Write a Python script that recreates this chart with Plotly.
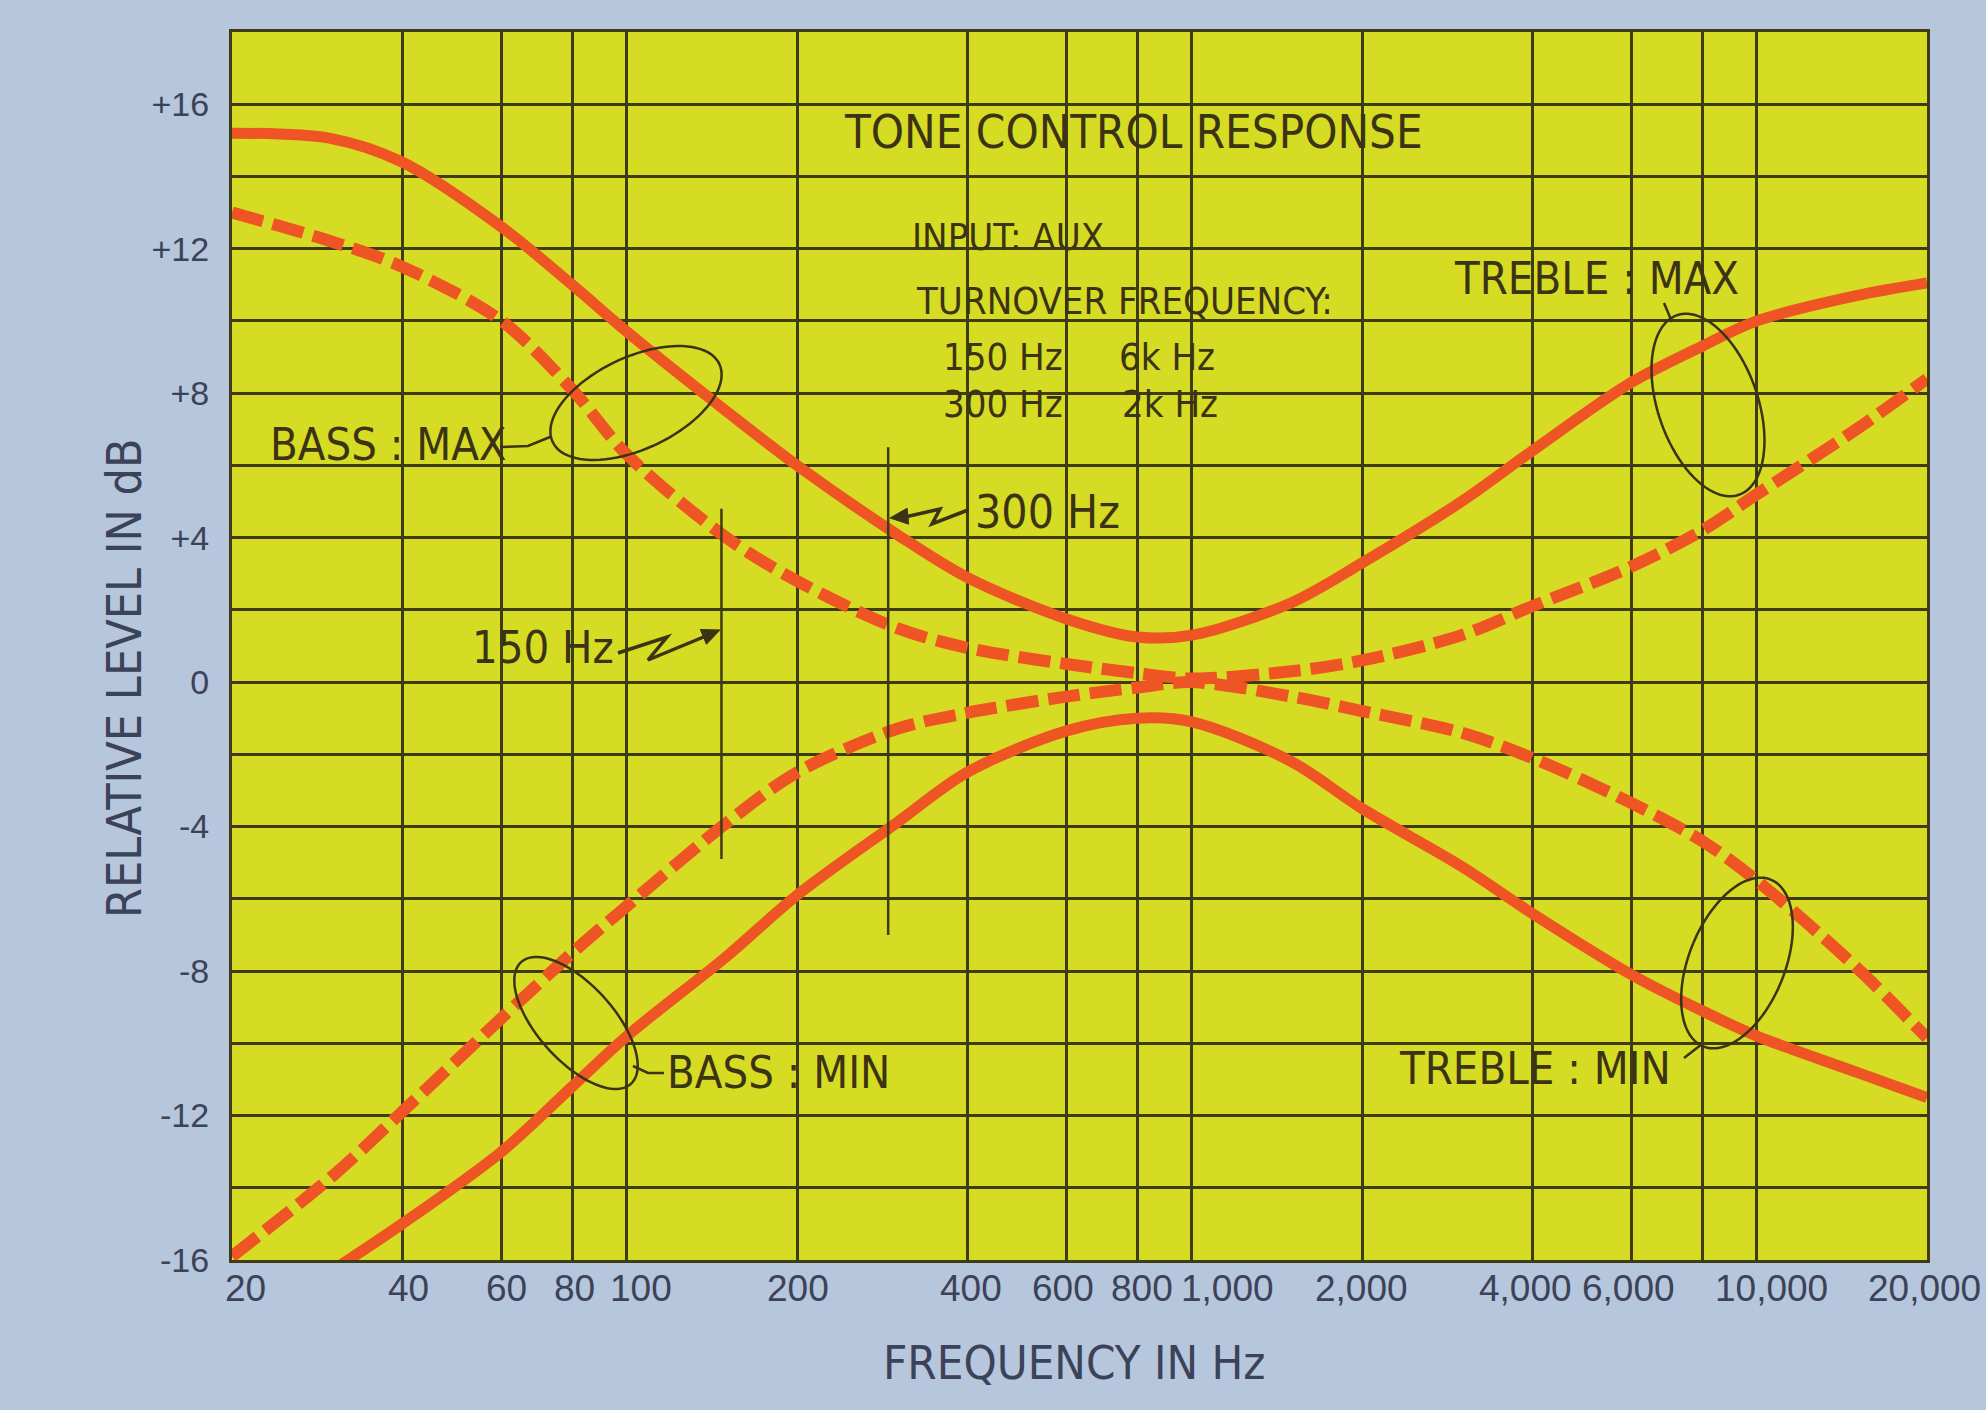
import math
import plotly.graph_objects as go

# ---------------- data ----------------
freq = [20, 30, 40, 60, 80, 100, 150, 200, 300, 400, 600, 800, 1000,
        1500, 2000, 3000, 4000, 6000, 8000, 10000, 15000, 20000]

# turnover 300 Hz / 2 kHz (solid)
max_300_2k = [15.2, 15.05, 14.4, 12.6, 11.0, 9.7, 7.5, 6.0, 4.1, 2.9, 1.75, 1.25, 1.3,
              2.2, 3.3, 5.0, 6.4, 8.3, 9.3, 10.0, 10.7, 11.05]
min_300_2k = [-18.0, -16.3, -15.0, -13.0, -11.2, -9.8, -7.6, -5.9, -3.9, -2.5, -1.35, -1.0, -1.1,
              -2.2, -3.5, -5.1, -6.4, -8.1, -9.1, -9.8, -10.8, -11.5]
# turnover 150 Hz / 6 kHz (dashed)
max_150_6k = [13.0, 12.2, 11.5, 10.0, 8.1, 6.3, 4.0, 2.8, 1.5, 0.95, 0.5, 0.25, 0.1,
              0.3, 0.6, 1.3, 2.1, 3.2, 4.2, 5.2, 7.0, 8.4]
min_150_6k = [-15.9, -13.7, -11.9, -9.3, -7.5, -6.2, -3.9, -2.5, -1.3, -0.85, -0.4, -0.15, 0.0,
              -0.4, -0.8, -1.4, -2.1, -3.35, -4.4, -5.5, -7.9, -9.85]

# turnover markers (as drawn on the chart)
marker_freq = [147, 290]
marker_top = [4.8, 6.5]
marker_bottom = [-4.9, -7.0]

x_tick_vals = [20, 40, 60, 80, 100, 200, 400, 600, 800, 1000, 2000, 4000, 6000, 8000, 10000, 20000]
x_tick_text = ["20", "40", "60", "80", "100", "200", "400", "600", "800", "1,000", "2,000",
               "4,000", "6,000", "", "10,000", "20,000"]
y_tick_vals = list(range(-16, 19, 2))
y_tick_text = ["-16", "", "-12", "", "-8", "", "-4", "", "0", "", "+4", "", "+8", "", "+12", "", "+16", ""]

# ---------------- style ----------------
W, H = 1986, 1410
L, R, T, B = 232, 59, 32, 150
PW, PH = W - L - R, H - T - B
BG = "#b6c6dc"
YEL = "#d6db24"
GRID = "#3f3b14"
CURVE = "#ee5424"
INK = "#3a3314"
TICK_INK = "#3c4258"
REG = "Liberation Sans, Arial, sans-serif"
NARROW = "DejaVu Sans Condensed, Liberation Sans Narrow, DejaVu Sans, sans-serif"

# printed tick labels sit slightly off their grid lines (pixel nudges)
x_label_shift = {"20": 13, "40": 6, "60": 5, "80": 2, "100": 14, "200": 1, "400": 4, "600": -4,
                 "800": 5, "1,000": 36, "2,000": -1, "4,000": -7, "6,000": -3, "10,000": 15,
                 "20,000": -3}


def P(x, y):
    return f"{(x - L) / PW:.5f},{(H - B - y) / PH:.5f}"


def ellipse_path(cx, cy, a, b, ang, n=90):
    t = math.radians(ang)
    pts = []
    for i in range(n):
        th = 2 * math.pi * i / n
        ex, ey = a * math.cos(th), b * math.sin(th)
        pts.append(P(cx + ex * math.cos(t) - ey * math.sin(t),
                     cy + ex * math.sin(t) + ey * math.cos(t)))
    return "M" + " L".join(pts) + " Z"


def poly_path(points, close=False):
    s = "M" + " L".join(P(x, y) for x, y in points)
    return s + (" Z" if close else "")


def arrow_head(tip, direction, length=18, half=8):
    dx, dy = direction
    n = math.hypot(dx, dy)
    dx, dy = dx / n, dy / n
    bx, by = tip[0] - dx * length, tip[1] - dy * length
    px, py = -dy, dx
    return poly_path([tip, (bx + px * half, by + py * half), (bx - px * half, by - py * half)], close=True)


fig = go.Figure()

line_kw = dict(shape="spline", smoothing=0.9)
fig.add_trace(go.Scatter(x=freq, y=max_150_6k, mode="lines", name="MAX 150 Hz / 6k Hz",
                         line=dict(color=CURVE, width=12, dash="32px,10px", **line_kw)))
fig.add_trace(go.Scatter(x=freq, y=min_150_6k, mode="lines", name="MIN 150 Hz / 6k Hz",
                         line=dict(color=CURVE, width=12, dash="32px,10px", **line_kw)))
fig.add_trace(go.Scatter(x=freq, y=max_300_2k, mode="lines", name="MAX 300 Hz / 2k Hz",
                         line=dict(color=CURVE, width=11, **line_kw)))
fig.add_trace(go.Scatter(x=freq, y=min_300_2k, mode="lines", name="MIN 300 Hz / 2k Hz",
                         line=dict(color=CURVE, width=11, **line_kw)))
for f, top, bot in zip(marker_freq, marker_top, marker_bottom):
    fig.add_trace(go.Scatter(x=[f, f], y=[top, bot], mode="lines",
                             line=dict(color=GRID, width=2.5), hoverinfo="skip"))

shapes = []
thin = dict(color=INK, width=2.5)
# callout ellipses + leaders
shapes.append(dict(type="path", xref="paper", yref="paper", path=ellipse_path(636, 403, 92, 46, -25), line=thin))
shapes.append(dict(type="path", xref="paper", yref="paper", path=poly_path([(500, 447), (528, 446), (550, 437)]), line=thin))
shapes.append(dict(type="path", xref="paper", yref="paper", path=ellipse_path(1708, 405, 95, 50, 71), line=thin))
shapes.append(dict(type="path", xref="paper", yref="paper", path=poly_path([(1664, 303), (1672, 322)]), line=thin))
shapes.append(dict(type="path", xref="paper", yref="paper", path=ellipse_path(1737, 963, 90, 48, 112), line=thin))
shapes.append(dict(type="path", xref="paper", yref="paper", path=poly_path([(1684, 1058), (1702, 1044)]), line=thin))
shapes.append(dict(type="path", xref="paper", yref="paper", path=ellipse_path(576, 1023, 82, 38, 48), line=thin))
shapes.append(dict(type="path", xref="paper", yref="paper", path=poly_path([(633, 1066), (648, 1073), (664, 1073)]), line=thin))
# zig-zag arrows
zz = dict(color=INK, width=3.5)
shapes.append(dict(type="path", xref="paper", yref="paper",
                   path=poly_path([(618, 653), (667, 637), (648, 660), (706, 636)]), line=zz))
shapes.append(dict(type="path", xref="paper", yref="paper", path=arrow_head((720, 630), (72, -30)),
                   line=dict(color=INK, width=1), fillcolor=INK))
shapes.append(dict(type="path", xref="paper", yref="paper",
                   path=poly_path([(968, 510), (932, 524), (940, 509), (905, 517)]), line=zz))
shapes.append(dict(type="path", xref="paper", yref="paper", path=arrow_head((890, 518), (-1, 0.1)),
                   line=dict(color=INK, width=1), fillcolor=INK))


def txt(s, x, y, size, anchor="left", family=NARROW, color=INK, angle=0):
    return dict(text=s, xref="paper", yref="paper", x=(x - L) / PW, y=(H - B - y) / PH,
                xanchor=anchor, yanchor="middle", showarrow=False, textangle=angle,
                font=dict(family=family, size=size, color=color))


annotations = [
    txt("TONE CONTROL RESPONSE", 1133, 131, 47, "center"),
    txt("INPUT: AUX", 910, 237, 38),
    txt("TURNOVER FREQUENCY:", 914, 301, 38),
    txt("150 Hz", 941, 357, 38),
    txt("6k Hz", 1117, 357, 38),
    txt("300 Hz", 941, 404, 38),
    txt("2k Hz", 1120, 404, 38),
    txt("TREBLE : MAX", 1452, 278, 45),
    txt("BASS : MAX", 268, 444, 45),
    txt("300 Hz", 973, 512, 46),
    txt("150 Hz", 470, 647, 45),
    txt("BASS : MIN", 665, 1072, 45),
    txt("TREBLE : MIN", 1397, 1068, 45),
    # axis titles
    txt("FREQUENCY IN Hz", 1074, 1362, 47, "center", color=TICK_INK),
    txt("RELATIVE LEVEL IN dB", 124, 678, 48, "center", color=TICK_INK, angle=-90),
]
# x tick labels, positioned through the x axis (log) scale
for v, t in zip(x_tick_vals, x_tick_text):
    if not t:
        continue
    annotations.append(dict(text=t, xref="x", yref="paper", x=math.log10(v), y=0,
                            xanchor="center", yanchor="top", xshift=x_label_shift.get(t, 0), yshift=-6,
                            showarrow=False, font=dict(family=REG, size=37, color=TICK_INK)))

fig.update_layout(
    width=W, height=H,
    margin=dict(l=L, r=R, t=T, b=B, pad=0),
    paper_bgcolor=BG, plot_bgcolor=YEL,
    showlegend=False,
    shapes=shapes, annotations=annotations,
    xaxis=dict(type="log", range=[math.log10(20), math.log10(20000)],
               tickmode="array", tickvals=x_tick_vals, showticklabels=False,
               showgrid=True, gridcolor=GRID, gridwidth=2.5, zeroline=False,
               showline=True, mirror=True, linecolor=GRID, linewidth=3, ticks=""),
    yaxis=dict(range=[-16, 18], tickmode="array", tickvals=y_tick_vals, ticktext=y_tick_text,
               showgrid=True, gridcolor=GRID, gridwidth=2.5, zeroline=False,
               showline=True, mirror=True, linecolor=GRID, linewidth=3,
               ticks="", ticklabelstandoff=13,
               tickfont=dict(family=REG, size=34, color=TICK_INK)),
)

fig.write_html("out.html", config={"displayModeBar": False},
               post_script="document.body.style.margin='0';document.body.style.overflow='hidden';")
